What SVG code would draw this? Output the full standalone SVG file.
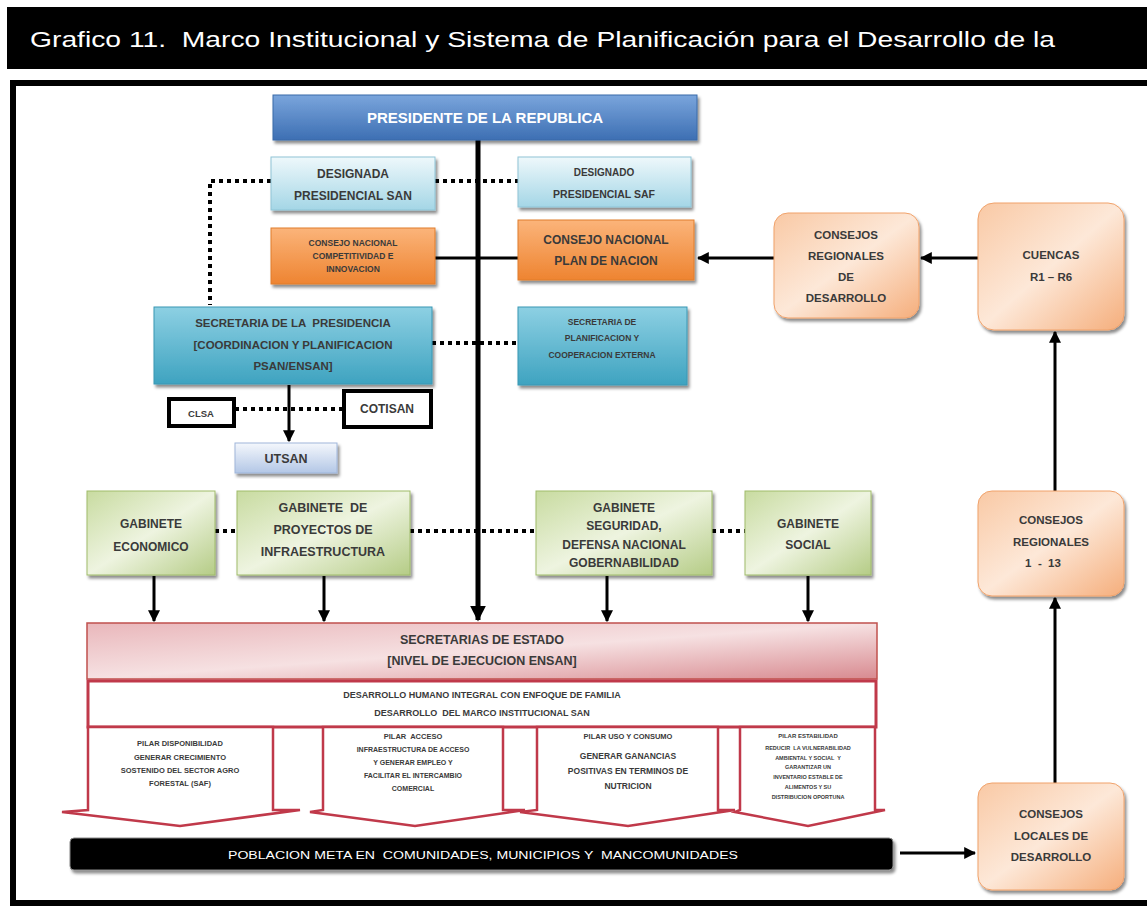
<svg xmlns="http://www.w3.org/2000/svg" width="1147" height="906" viewBox="0 0 1147 906">
<defs>
<style>
text{white-space:pre}
.t{font-family:"Liberation Sans",Arial,sans-serif;font-weight:bold;fill:#3a3a3a;text-anchor:middle}
.tw{font-family:"Liberation Sans",Arial,sans-serif;fill:#ffffff;text-anchor:middle}
.dot{fill:none;stroke:#000;stroke-width:4;stroke-dasharray:4 4}
.ln{fill:none;stroke:#000;stroke-width:3}
.main{fill:none;stroke:#000;stroke-width:5}
.pil{fill:#fff;stroke:#c0394a;stroke-width:2.5}
</style>
<linearGradient id="gBlue" x1="0" y1="0" x2="0" y2="1"><stop offset="0" stop-color="#7aa5dc"/><stop offset="1" stop-color="#3d6fb3"/></linearGradient>
<linearGradient id="gLight" x1="0" y1="0" x2="0" y2="1"><stop offset="0" stop-color="#eef8fb"/><stop offset="1" stop-color="#a4d6e6"/></linearGradient>
<linearGradient id="gOr" x1="0" y1="0" x2="0" y2="1"><stop offset="0" stop-color="#fbb47a"/><stop offset="1" stop-color="#ee8431"/></linearGradient>
<linearGradient id="gTeal" x1="0" y1="0" x2="0" y2="1"><stop offset="0" stop-color="#8dd0e3"/><stop offset="1" stop-color="#3ea3c0"/></linearGradient>
<linearGradient id="gUt" x1="0" y1="0" x2="0" y2="1"><stop offset="0" stop-color="#f4f7fc"/><stop offset="1" stop-color="#b3c7e6"/></linearGradient>
<linearGradient id="gGreen" x1="0" y1="0" x2="1" y2="1"><stop offset="0" stop-color="#c8dba0"/><stop offset="0.5" stop-color="#eef4e0"/><stop offset="1" stop-color="#b5cc86"/></linearGradient>
<linearGradient id="gPink" x1="0" y1="0" x2="1" y2="1"><stop offset="0" stop-color="#e9b7bb"/><stop offset="0.5" stop-color="#f6e1e2"/><stop offset="1" stop-color="#d88a90"/></linearGradient>
<linearGradient id="gPeach" x1="0" y1="0" x2="1" y2="1"><stop offset="0" stop-color="#f9c9a5"/><stop offset="0.5" stop-color="#fde8d8"/><stop offset="1" stop-color="#f5ae7c"/></linearGradient>
<filter id="sh" x="-10%" y="-10%" width="125%" height="130%"><feDropShadow dx="2" dy="3" stdDeviation="1.5" flood-color="#000" flood-opacity="0.45"/></filter>
<marker id="ah" viewBox="0 0 10 10" refX="9" refY="5" markerWidth="4" markerHeight="4" orient="auto"><path d="M0,0 L10,5 L0,10 z" fill="#000"/></marker>
<marker id="ahb" viewBox="0 0 10 10" refX="9" refY="5" markerWidth="3.2" markerHeight="3.2" orient="auto"><path d="M0,0 L10,5 L0,10 z" fill="#000"/></marker>
</defs>

<rect x="0" y="0" width="1147" height="906" fill="#ffffff"/>
<g id="title">
<rect x="7" y="7" width="1140" height="62" fill="#000"/>
<text x="30" y="47" font-family="'Liberation Sans',Arial,sans-serif" font-size="22" fill="#fff" textLength="1025" lengthAdjust="spacingAndGlyphs">Grafico 11.  Marco Institucional y Sistema de Planificación para el Desarrollo de la</text>
</g>
<rect x="13" y="83" width="1140" height="820" fill="none" stroke="#000" stroke-width="6"/>

<g id="connectors">
<line class="main" x1="478" y1="140" x2="478" y2="620" marker-end="url(#ahb)"/>
<polyline class="dot" points="271,181 210,181 210,305"/>
<line class="dot" x1="435" y1="181" x2="518" y2="181"/>
<line class="ln" x1="435" y1="258" x2="518" y2="258"/>
<line class="ln" x1="774" y1="258" x2="698" y2="258" marker-end="url(#ah)"/>
<line class="ln" x1="978" y1="258" x2="921" y2="258" marker-end="url(#ah)"/>
<line class="dot" x1="432" y1="343" x2="518" y2="343"/>
<line class="ln" x1="289" y1="385" x2="289" y2="441" marker-end="url(#ah)"/>
<line class="dot" x1="235" y1="409" x2="343" y2="409"/>
<line class="dot" x1="215" y1="531" x2="237" y2="531"/>
<line class="dot" x1="410" y1="531" x2="536" y2="531"/>
<line class="dot" x1="712" y1="531" x2="745" y2="531"/>
<line class="ln" x1="154" y1="576" x2="154" y2="621" marker-end="url(#ah)"/>
<line class="ln" x1="324" y1="576" x2="324" y2="621" marker-end="url(#ah)"/>
<line class="ln" x1="607" y1="576" x2="607" y2="621" marker-end="url(#ah)"/>
<line class="ln" x1="808" y1="576" x2="808" y2="621" marker-end="url(#ah)"/>
<line class="ln" x1="900" y1="853" x2="975" y2="853" marker-end="url(#ah)"/>
<line class="ln" x1="1055" y1="783" x2="1055" y2="598" marker-end="url(#ah)"/>
<line class="ln" x1="1055" y1="491" x2="1055" y2="332" marker-end="url(#ah)"/>
</g>

<g id="presidente"><rect x="273" y="95" width="424" height="45" fill="url(#gBlue)" stroke="#3a6aa8" filter="url(#sh)"/>
<text class="tw" x="485" y="123" font-size="15" font-weight="bold">PRESIDENTE DE LA REPUBLICA</text></g>

<g id="designada-san"><rect x="271" y="157" width="164" height="53" fill="url(#gLight)" stroke="#8fc4d6" filter="url(#sh)"/>
<text class="t" x="353" y="178" font-size="12">DESIGNADA</text><text class="t" x="353" y="200" font-size="12">PRESIDENCIAL SAN</text></g>

<g id="designado-saf"><rect x="518" y="157" width="173" height="50" fill="url(#gLight)" stroke="#8fc4d6" filter="url(#sh)"/>
<text class="t" x="604" y="176" font-size="10">DESIGNADO</text><text class="t" x="604" y="198" font-size="10.5">PRESIDENCIAL SAF</text></g>

<g id="cn-competitividad"><rect x="271" y="228" width="164" height="56" fill="url(#gOr)" stroke="#e07c2c" filter="url(#sh)"/>
<text class="t" x="353" y="246" font-size="8.5">CONSEJO NACIONAL</text><text class="t" x="353" y="259" font-size="8.5">COMPETITIVIDAD E</text><text class="t" x="353" y="272" font-size="8.5">INNOVACION</text></g>

<g id="cn-plan"><rect x="518" y="220" width="176" height="60" fill="url(#gOr)" stroke="#e07c2c" filter="url(#sh)"/>
<text class="t" x="606" y="244" font-size="12">CONSEJO NACIONAL</text><text class="t" x="606" y="265" font-size="12">PLAN DE NACION</text></g>

<g id="consejos-regionales-desarrollo"><rect x="774" y="213" width="145" height="105" rx="14" fill="url(#gPeach)" stroke="#f0a26b" filter="url(#sh)"/>
<text class="t" x="846" y="239" font-size="11.5">CONSEJOS</text><text class="t" x="846" y="260" font-size="11.5">REGIONALES</text><text class="t" x="846" y="281" font-size="11.5">DE</text><text class="t" x="846" y="302" font-size="11.5">DESARROLLO</text></g>

<g id="cuencas"><rect x="978" y="203" width="146" height="127" rx="16" fill="url(#gPeach)" stroke="#f0a26b" filter="url(#sh)"/>
<text class="t" x="1051" y="259" font-size="11.5">CUENCAS</text><text class="t" x="1051" y="281" font-size="11.5">R1 – R6</text></g>

<g id="secretaria-presidencia"><rect x="154" y="307" width="278" height="77" fill="url(#gTeal)" stroke="#3a97b4" filter="url(#sh)"/>
<text class="t" x="293" y="327" font-size="11.5">SECRETARIA DE LA  PRESIDENCIA</text><text class="t" x="293" y="349" font-size="11.5">[COORDINACION Y PLANIFICACION</text><text class="t" x="293" y="370" font-size="11.5">PSAN/ENSAN]</text></g>

<g id="seplan"><rect x="518" y="307" width="169" height="78" fill="url(#gTeal)" stroke="#3a97b4" filter="url(#sh)"/>
<text class="t" x="602" y="325" font-size="8.5">SECRETARIA DE</text><text class="t" x="602" y="341" font-size="8.5">PLANIFICACION Y</text><text class="t" x="602" y="358" font-size="8.5">COOPERACION EXTERNA</text></g>

<g id="clsa"><rect x="169" y="399" width="65" height="27" fill="#fff" stroke="#000" stroke-width="4"/>
<text class="t" x="201" y="417" font-size="9.5">CLSA</text></g>

<g id="cotisan"><rect x="344" y="391" width="87" height="36" fill="#fff" stroke="#000" stroke-width="4"/>
<text class="t" x="387" y="413" font-size="12" font-weight="normal">COTISAN</text></g>

<g id="utsan"><rect x="235" y="443" width="102" height="30" fill="url(#gUt)" stroke="#9fb6da" filter="url(#sh)"/>
<text class="t" x="286" y="463" font-size="12.5">UTSAN</text></g>

<g id="gab-economico"><rect x="87" y="491" width="128" height="84" fill="url(#gGreen)" stroke="#9fbb6a" filter="url(#sh)"/>
<text class="t" x="151" y="528" font-size="12">GABINETE</text><text class="t" x="151" y="551" font-size="12">ECONOMICO</text></g>

<g id="gab-infra"><rect x="237" y="491" width="173" height="84" fill="url(#gGreen)" stroke="#9fbb6a" filter="url(#sh)"/>
<text class="t" x="323" y="512" font-size="12.5">GABINETE  DE</text><text class="t" x="323" y="534" font-size="12.5">PROYECTOS DE</text><text class="t" x="323" y="556" font-size="12.5">INFRAESTRUCTURA</text></g>

<g id="gab-seguridad"><rect x="536" y="491" width="176" height="84" fill="url(#gGreen)" stroke="#9fbb6a" filter="url(#sh)"/>
<text class="t" x="624" y="512" font-size="12">GABINETE</text><text class="t" x="624" y="530" font-size="12">SEGURIDAD,</text><text class="t" x="624" y="549" font-size="12">DEFENSA NACIONAL</text><text class="t" x="624" y="567" font-size="12">GOBERNABILIDAD</text></g>

<g id="gab-social"><rect x="745" y="491" width="126" height="84" fill="url(#gGreen)" stroke="#9fbb6a" filter="url(#sh)"/>
<text class="t" x="808" y="528" font-size="12">GABINETE</text><text class="t" x="808" y="549" font-size="12">SOCIAL</text></g>

<g id="secretarias-estado"><rect x="87" y="623" width="790" height="56" fill="url(#gPink)" stroke="#c0504d" stroke-width="1.5"/>
<text class="t" x="482" y="644" font-size="12.5">SECRETARIAS DE ESTADO</text><text class="t" x="482" y="665" font-size="12.5">[NIVEL DE EJECUCION ENSAN]</text></g>

<g id="desarrollo"><rect x="88" y="681" width="788" height="46" fill="#fff" stroke="#c0394a" stroke-width="3"/>
<text class="t" x="482" y="698" font-size="9">DESARROLLO HUMANO INTEGRAL CON ENFOQUE DE FAMILIA</text><text class="t" x="482" y="716" font-size="9">DESARROLLO  DEL MARCO INSTITUCIONAL SAN</text></g>

<g id="pilar-disponibilidad"><path class="pil" d="M88,727 L273,727 L273,810 L300,810 L180,826 L62,812 L88,810 Z"/>
<text class="t" x="180" y="746" font-size="7.5">PILAR DISPONIBILIDAD</text><text class="t" x="180" y="760" font-size="7.5" font-weight="normal">GENERAR CRECIMIENTO</text><text class="t" x="180" y="773" font-size="7.5" font-weight="normal">SOSTENIDO DEL SECTOR AGRO</text><text class="t" x="180" y="786" font-size="7.5" font-weight="normal">FORESTAL (SAF)</text></g>

<g id="pilar-acceso"><path class="pil" d="M323,727 L503,727 L503,810 L525,810 L415,826 L310,812 L323,810 Z"/>
<text class="t" x="413" y="739" font-size="7.5">PILAR  ACCESO</text><text class="t" x="413" y="752" font-size="7" font-weight="normal">INFRAESTRUCTURA DE ACCESO</text><text class="t" x="413" y="765" font-size="7" font-weight="normal">Y GENERAR EMPLEO Y</text><text class="t" x="413" y="778" font-size="7" font-weight="normal">FACILITAR EL INTERCAMBIO</text><text class="t" x="413" y="791" font-size="7" font-weight="normal">COMERCIAL</text></g>

<g id="pilar-uso"><path class="pil" d="M537,727 L718,727 L718,810 L735,810 L628,826 L520,812 L537,810 Z"/>
<text class="t" x="628" y="739" font-size="7.5">PILAR USO Y CONSUMO</text><text class="t" x="628" y="759" font-size="8.5" font-weight="normal">GENERAR GANANCIAS</text><text class="t" x="628" y="774" font-size="8.5" font-weight="normal">POSITIVAS EN TERMINOS DE</text><text class="t" x="628" y="789" font-size="8.5" font-weight="normal">NUTRICION</text></g>

<g id="pilar-estabilidad"><path class="pil" d="M740,727 L875,727 L875,810 L885,810 L808,826 L735,812 L740,810 Z"/>
<text class="t" x="808" y="738" font-size="6">PILAR ESTABILIDAD</text><text class="t" x="808" y="750" font-size="5.5" font-weight="normal">REDUCIR  LA VULNERABILIDAD</text><text class="t" x="808" y="760" font-size="5.5" font-weight="normal">AMBIENTAL Y SOCIAL  Y</text><text class="t" x="808" y="769" font-size="5.5" font-weight="normal">GARANTIZAR UN</text><text class="t" x="808" y="779" font-size="5.5" font-weight="normal">INVENTARIO ESTABLE DE</text><text class="t" x="808" y="789" font-size="5.5" font-weight="normal">ALIMENTOS Y SU</text><text class="t" x="808" y="799" font-size="5.5" font-weight="normal">DISTRIBUCION OPORTUNA</text></g>

<g id="poblacion"><rect x="70" y="838" width="823" height="32" rx="4" fill="#000" stroke="#888" stroke-width="1" filter="url(#sh)"/>
<text class="tw" x="483" y="859" font-size="11.5" textLength="510" lengthAdjust="spacingAndGlyphs">POBLACION META EN  COMUNIDADES, MUNICIPIOS Y  MANCOMUNIDADES</text></g>

<g id="consejos-locales"><rect x="978" y="783" width="146" height="107" rx="14" fill="url(#gPeach)" stroke="#f0a26b" filter="url(#sh)"/>
<text class="t" x="1051" y="818" font-size="11.5">CONSEJOS</text><text class="t" x="1051" y="840" font-size="11.5">LOCALES DE</text><text class="t" x="1051" y="861" font-size="11.5">DESARROLLO</text></g>

<g id="consejos-regionales-113"><rect x="978" y="491" width="146" height="105" rx="14" fill="url(#gPeach)" stroke="#f0a26b" filter="url(#sh)"/>
<text class="t" x="1051" y="524" font-size="11.5">CONSEJOS</text><text class="t" x="1051" y="546" font-size="11.5">REGIONALES</text><text class="t" x="1043" y="567" font-size="11.5">1  -  13</text></g>
</svg>
